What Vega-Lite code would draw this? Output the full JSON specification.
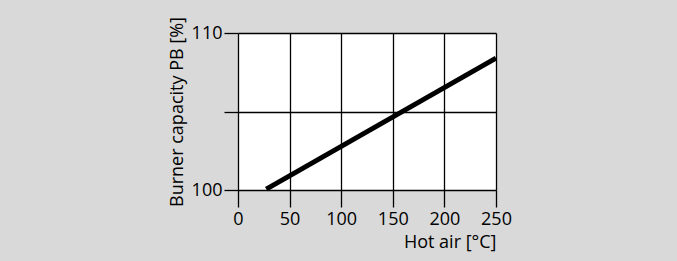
{
  "$schema": "https://vega.github.io/schema/vega-lite/v6.json",
  "width": 258,
  "height": 157,
  "autosize": "none",
  "padding": {"left": 238, "top": 33, "right": 181, "bottom": 71},
  "background": "#d9d9d9",
  "config": {
    "view": {"fill": "white", "stroke": null},
    "font": "Open Sans",
    "axis": {
      "domain": false,
      "grid": true,
      "gridColor": "black",
      "gridWidth": 1.3,
      "gridOpacity": 1,
      "tickColor": "black",
      "tickWidth": 1.3,
      "labelFont": "Open Sans",
      "labelFontSize": 18,
      "labelColor": "black",
      "labelFlush": false,
      "titleFont": "Open Sans",
      "titleFontSize": 18,
      "titleFontWeight": "normal",
      "titleColor": "black"
    }
  },
  "data": {
    "values": [
      {"hot_air": 27.4, "capacity": 100.06},
      {"hot_air": 250, "capacity": 108.4}
    ]
  },
  "mark": {"type": "line", "color": "black", "strokeWidth": 5, "strokeCap": "butt", "clip": false},
  "encoding": {
    "x": {
      "field": "hot_air",
      "type": "quantitative",
      "scale": {"domain": [0, 250], "nice": false, "zero": false},
      "axis": {
        "values": [0, 50, 100, 150, 200, 250],
        "tickSize": 17,
        "labelPadding": 3,
        "title": "Hot air [°C]",
        "titleAnchor": "end",
        "titleAlign": "right",
        "titlePadding": 5
      }
    },
    "y": {
      "field": "capacity",
      "type": "quantitative",
      "scale": {"domain": [100, 110], "nice": false, "zero": false},
      "axis": {
        "values": [100, 105, 110],
        "labelExpr": "datum.value == 105 ? '' : datum.label",
        "labelFlush": false,
        "tickSize": 14,
        "labelPadding": 2,
        "title": "Burner capacity PB [%]",
        "titlePadding": 5
      }
    }
  }
}
